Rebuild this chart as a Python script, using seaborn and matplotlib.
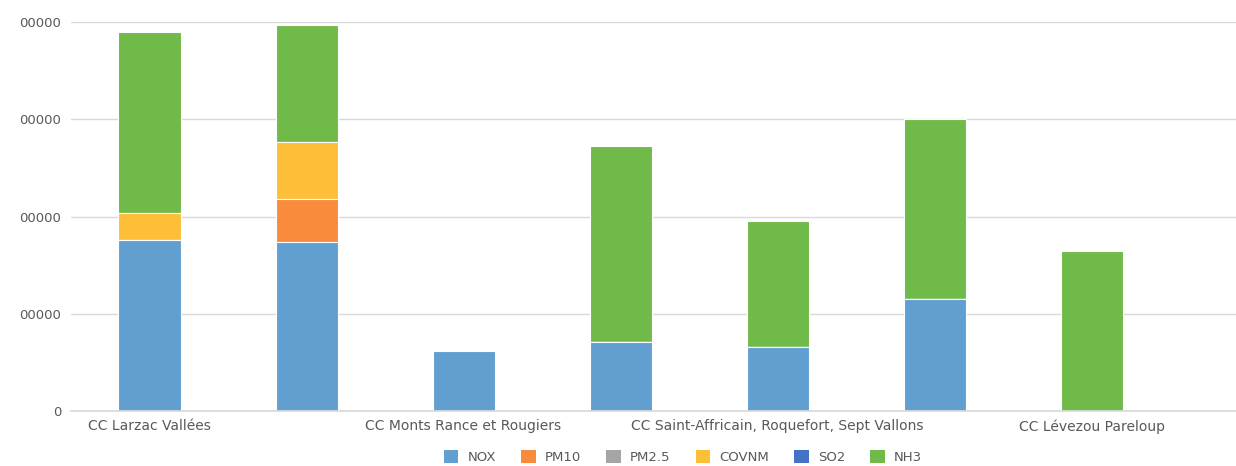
import numpy as np
import pandas as pd
import matplotlib
matplotlib.use("Agg")
import matplotlib.pyplot as plt
import seaborn as sns
from matplotlib.patches import Patch

# Données (émissions par polluant)
communes = [
    "CC Larzac Vallées",
    "CC Millau Grands Causses",
    "CC Monts Rance et Rougiers",
    "CC Muse et Raspes du Tarn",
    "CC Saint-Affricain, Roquefort, Sept Vallons",
    "CC Réquistanais",
    "CC Lévezou Pareloup",
]
polluants = ["NOX", "PM10", "PM2.5", "COVNM", "SO2", "NH3"]
nox = [175800, 173800, 61700, 70900, 65800, 115200, 0]
pm10 = [0, 44200, 0, 0, 0, 0, 0]
pm25 = [0, 0, 0, 0, 0, 0, 0]
covnm = [27800, 58600, 0, 0, 0, 0, 0]
so2 = [0, 0, 0, 0, 0, 0, 0]
nh3 = [186100, 120300, 0, 201500, 129600, 185100, 164500]
couleurs = ["#619FD0", "#F98B3D", "#A5A5A5", "#FDBF38", "#4472C4", "#70BA4A"]

sns.set_theme(style="white")
plt.rcParams['font.family'] = ['DejaVu Sans']

df = pd.DataFrame({"commune": communes, "NOX": nox, "PM10": pm10, "PM2.5": pm25,
                   "COVNM": covnm, "SO2": so2, "NH3": nh3})
cumul = df[polluants].cumsum(axis=1)

fig = plt.figure(figsize=(12.36, 4.66), dpi=100)
ax = fig.add_axes([71 / 1236, 55 / 466, 1165 / 1236, 389 / 466])

# Barres empilées : du sommet vers la base
for pol, col in reversed(list(zip(polluants, couleurs))):
    sns.barplot(x=df["commune"], y=cumul[pol], color=col, width=0.395,
                edgecolor="white", linewidth=0.8, saturation=1, ax=ax,
                order=communes)

ax.set_ylim(0, 400000)
ax.set_xlim(-0.5, 6.92)
ax.set_yticks([0, 100000, 200000, 300000, 400000])
ax.set_yticklabels(["0", "00000", "00000", "00000", "00000"])
ax.set_xticks(range(len(communes)))
ax.set_xticklabels([c if i % 2 == 0 else "" for i, c in enumerate(communes)])
ax.set_xlabel("")
ax.set_ylabel("")
ax.yaxis.grid(True, color="#D9D9D9", linewidth=1)
ax.set_axisbelow(True)
for s in ["top", "right", "left"]:
    ax.spines[s].set_visible(False)
ax.spines["bottom"].set_color("#D9D9D9")
ax.tick_params(axis="x", colors="#595959", labelsize=10, length=0, pad=6)
ax.tick_params(axis="y", colors="#595959", labelsize=9.5, length=0, pad=7)
for lbl in ax.get_xticklabels():
    lbl.set_color("#595959")

handles = [Patch(facecolor=c, edgecolor="none") for c in couleurs]
fig.legend(handles, polluants, loc="center", bbox_to_anchor=(683 / 1236, 9 / 466),
           ncol=6, frameon=False, fontsize=9.5, handlelength=1.1, handleheight=1.1,
           handletextpad=0.7, columnspacing=1.9, labelcolor="#595959")

plt.savefig("out.png", dpi=100)
plt.close()
